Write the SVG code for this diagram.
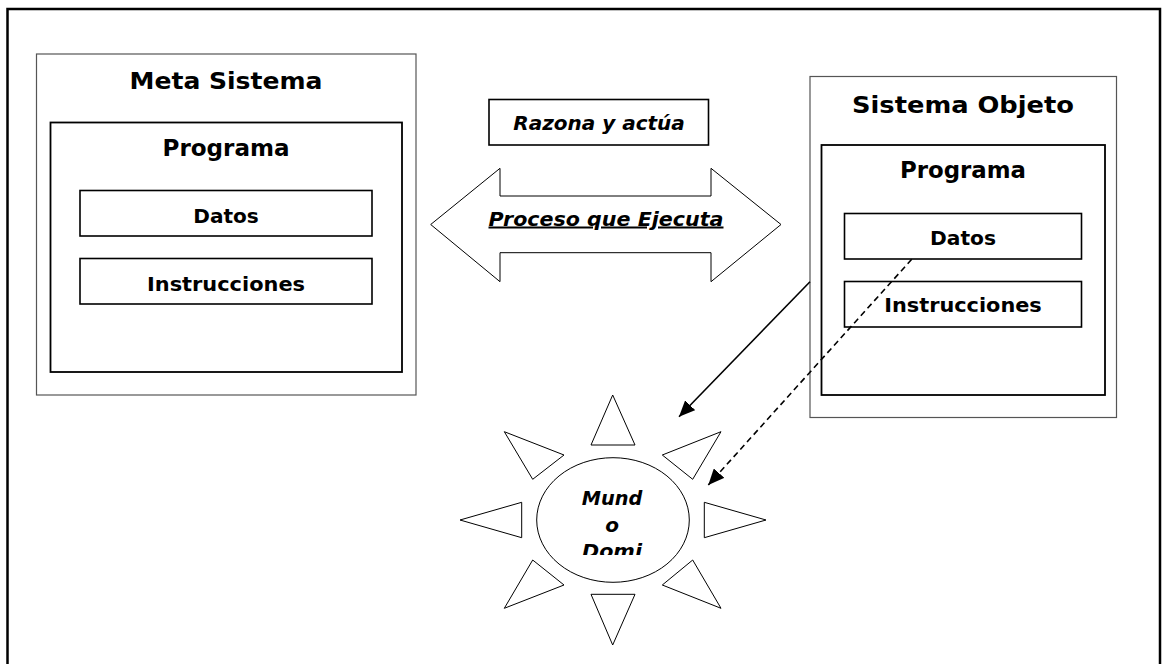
<svg xmlns="http://www.w3.org/2000/svg" width="1162" height="664" viewBox="0 0 1162 664">
<style>
.frame{fill:none;stroke:#000;stroke-width:2.5}
.outer{fill:#fff;stroke:#555;stroke-width:1.2}
.prog{fill:#fff;stroke:#000;stroke-width:1.8}
.item{fill:#fff;stroke:#000;stroke-width:1.6}
.shape{fill:#fff;stroke:#000;stroke-width:1}
text{font-family:"DejaVu Sans",Verdana,sans-serif;font-weight:bold;fill:#000;text-anchor:middle}
.t1{font-size:23.5px}
.t2{font-size:20px}
.it{font-style:italic;font-size:20px}
.conn{stroke:#000;stroke-width:1.6;fill:none}
</style>
<defs>
<marker id="ahb" viewBox="0 0 16 14" refX="16" refY="7" markerWidth="16" markerHeight="14" markerUnits="userSpaceOnUse" orient="auto">
<path d="M0,0 L16,7 L0,14 z" fill="#000"/>
</marker>
<clipPath id="sunclip"><rect x="530" y="470" width="170" height="85"/></clipPath>
</defs>
<rect width="1162" height="664" fill="#fff"/>
<rect class="frame" x="7.5" y="9" width="1152.5" height="700"/>

<g id="meta-sistema">
<rect class="outer" x="36.5" y="54" width="379.5" height="341"/>
<text class="t1" x="226" y="89" textLength="193" lengthAdjust="spacingAndGlyphs">Meta Sistema</text>
<g id="meta-programa">
<rect class="prog" x="50.5" y="122.5" width="351.5" height="249.5"/>
<text class="t1" x="226" y="155.5" textLength="127" lengthAdjust="spacingAndGlyphs">Programa</text>
</g>
<g id="meta-datos">
<rect class="item" x="80" y="190.5" width="292" height="45.5"/>
<text class="t2" x="226" y="222.5" textLength="65.5" lengthAdjust="spacingAndGlyphs">Datos</text>
</g>
<g id="meta-instrucciones">
<rect class="item" x="80" y="258.5" width="292" height="45.5"/>
<text class="t2" x="226" y="291" textLength="158" lengthAdjust="spacingAndGlyphs">Instrucciones</text>
</g>
</g>

<g id="sistema-objeto">
<rect class="outer" x="810" y="76.5" width="306.5" height="341"/>
<text class="t1" x="963" y="113" textLength="222" lengthAdjust="spacingAndGlyphs">Sistema Objeto</text>
<g id="obj-programa">
<rect class="prog" x="821.5" y="145" width="283.5" height="250"/>
<text class="t1" x="963" y="178" textLength="126" lengthAdjust="spacingAndGlyphs">Programa</text>
</g>
<g id="obj-datos">
<rect class="item" x="844.5" y="213.5" width="237" height="45.5"/>
<text class="t2" x="963" y="245" textLength="66" lengthAdjust="spacingAndGlyphs">Datos</text>
</g>
<g id="obj-instrucciones">
<rect class="item" x="844.5" y="281.5" width="237" height="45.5"/>
<text class="t2" x="963" y="312" textLength="157.5" lengthAdjust="spacingAndGlyphs">Instrucciones</text>
</g>
</g>

<g id="razona">
<rect class="item" x="489" y="99.5" width="219.5" height="45.5"/>
<text class="it" x="599" y="130" textLength="171.5" lengthAdjust="spacingAndGlyphs">Razona y actúa</text>
</g>

<g id="proceso">
<path class="shape" d="M430.7,224.5 L500,168.3 L500,196 L711,196 L711,168.3 L781,224.5 L711,281.7 L711,252.7 L500,252.7 L500,281.7 Z"/>
<text class="it" x="606" y="225.5" text-decoration="underline" textLength="235" lengthAdjust="spacingAndGlyphs">Proceso que Ejecuta</text>
</g>

<g id="mundo">
<polygon class="shape" points="612.7,395 591,445 635,445"/>
<polygon class="shape" points="612.7,645 591,594.3 635,594.3"/>
<polygon class="shape" points="460,520 521.7,502.3 521.7,537.7"/>
<polygon class="shape" points="766,520 704.3,502.3 704.3,537.7"/>
<polygon class="shape" points="504.3,431.7 564,455 532.7,479.3"/>
<polygon class="shape" points="721,431.7 662.3,455 692.7,479.3"/>
<polygon class="shape" points="532.7,560 564,585 504.3,608.3"/>
<polygon class="shape" points="692.7,560 662.3,585 721,608.3"/>
<ellipse class="shape" cx="613" cy="520" rx="76.3" ry="62.3"/>
<g clip-path="url(#sunclip)">
<text class="it" x="612" y="505" textLength="60.5" lengthAdjust="spacingAndGlyphs">Mund</text>
<text class="it" x="612" y="531.5">o</text>
<text class="it" x="612" y="558" textLength="60" lengthAdjust="spacingAndGlyphs">Domi</text>
</g>
</g>

<g id="connectors">
<line class="conn" x1="810" y1="281.7" x2="679" y2="416.7" marker-end="url(#ahb)"/>
<line class="conn" x1="911.7" y1="259.3" x2="708.3" y2="485" stroke-dasharray="6,4" marker-end="url(#ahb)"/>
</g>
</svg>
